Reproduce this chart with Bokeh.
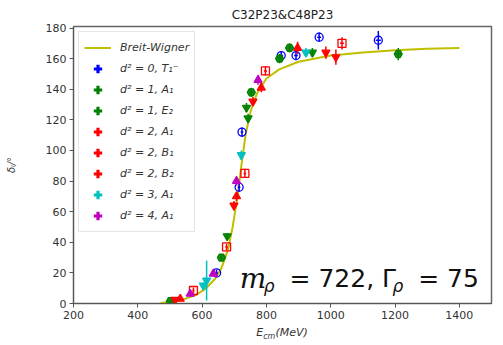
from bokeh.plotting import figure
from bokeh.layouts import column
from bokeh.models import (ColumnDataSource, Legend, LegendItem, Label,
                          Range1d, FixedTicker, Div)
from bokeh.embed import file_html
from bokeh.resources import INLINE

# Breit-Wigner fit curve: energy (MeV) and phase shift (degrees)
bw_E = [470, 500, 540, 580, 610, 640, 660, 680, 695, 710, 722, 735, 750,
        770, 800, 840, 900, 1000, 1100, 1200, 1300, 1400]
bw_delta = [0.3, 1.0, 2.5, 5.5, 9.5, 16, 23, 35, 50, 70, 90, 110, 125,
            137, 147, 153, 158, 162, 164, 165.5, 166.5, 167]

# Lattice phase shifts per irrep: energy, phase, energy error, phase error
t1m_E = [645, 715, 724, 846, 892, 964, 1148]
t1m_d = [20, 76, 112, 162, 162, 174, 172]
t1m_eE = [4, 4, 4, 6, 6, 6, 8]
t1m_ed = [2, 3, 3, 3, 3, 3, 6]

a1_d1_E = [501, 660, 753, 841, 872, 1210]
a1_d1_d = [1.5, 30, 138, 160, 167, 163]
a1_d1_eE = [3, 4, 5, 5, 6, 8]
a1_d1_ed = [1, 2, 3, 3, 3, 4]

e2_d1_E = [678, 738, 743, 943]
e2_d1_d = [44, 128, 121, 164]
e2_d1_eE = [4, 5, 5, 6]
e2_d1_ed = [2, 3, 3, 3]

a1_d2_E = [532, 707, 784, 897]
a1_d2_d = [3, 70, 141, 167]
a1_d2_eE = [3, 4, 5, 6]
a1_d2_ed = [1, 3, 3, 4]

b1_d2_E = [516, 699, 758, 985, 1016]
b1_d2_d = [2.4, 64, 132, 164, 161]
b1_d2_eE = [3, 4, 5, 6, 6]
b1_d2_ed = [1, 3, 3, 4, 5]

b2_d2_E = [573, 676, 733, 797, 1035]
b2_d2_d = [8.5, 37, 85, 152, 170]
b2_d2_eE = [3, 4, 4, 5, 6]
b2_d2_ed = [2, 2, 3, 3, 4]

a1_d3_E = [604, 614, 722, 923]
a1_d3_d = [11.8, 15, 97, 164]
a1_d3_eE = [3, 4, 4, 6]
a1_d3_ed = [2, 13, 3, 3]

a1_d4_E = [563, 635, 707, 774]
a1_d4_d = [6.3, 19.4, 80, 146]
a1_d4_eE = [3, 4, 4, 5]
a1_d4_ed = [1.5, 2, 3, 3]

x_ticks = [200, 400, 600, 800, 1000, 1200, 1400]
y_ticks = [0, 20, 40, 60, 80, 100, 120, 140, 160, 180]

series = [
    ("d² = 0, T₁⁻", "#0000ff", "circle", False, t1m_E, t1m_d, t1m_eE, t1m_ed),
    ("d² = 1, A₁", "#008000", "hex", True, a1_d1_E, a1_d1_d, a1_d1_eE, a1_d1_ed),
    ("d² = 1, E₂", "#008000", "inverted_triangle", True, e2_d1_E, e2_d1_d, e2_d1_eE, e2_d1_ed),
    ("d² = 2, A₁", "#ff0000", "triangle", True, a1_d2_E, a1_d2_d, a1_d2_eE, a1_d2_ed),
    ("d² = 2, B₁", "#ff0000", "inverted_triangle", True, b1_d2_E, b1_d2_d, b1_d2_eE, b1_d2_ed),
    ("d² = 2, B₂", "#ff0000", "square", False, b2_d2_E, b2_d2_d, b2_d2_eE, b2_d2_ed),
    ("d² = 3, A₁", "#00bfbf", "inverted_triangle", True, a1_d3_E, a1_d3_d, a1_d3_eE, a1_d3_ed),
    ("d² = 4, A₁", "#bf00bf", "triangle", True, a1_d4_E, a1_d4_d, a1_d4_eE, a1_d4_ed),
]

FONT = "DejaVu Sans"

p = figure(width=503, height=324, output_backend="svg", toolbar_location=None,
           x_range=Range1d(200, 1500), y_range=Range1d(0, 181),
           min_border_left=73, min_border_right=12, min_border_top=26,
           min_border_bottom=21)
p.grid.visible = False
p.outline_line_color = "#666666"
p.outline_line_width = 1.5

p.title.text = "C32P23&C48P23"
p.title.align = "center"
p.title.text_font = FONT
p.title.text_font_size = "12px"
p.title.text_font_style = "normal"
p.title.text_color = "#222222"

for ax in (p.xaxis, p.yaxis):
    ax.major_label_text_font = FONT
    ax.major_label_text_font_size = "11px"
    ax.major_label_text_color = "#333333"
    ax.axis_line_color = "#555555"
    ax.major_tick_line_color = "#555555"
    ax.major_tick_out = 4
    ax.major_tick_in = 0
    ax.minor_tick_out = 0
    ax.minor_tick_in = 0
    ax.major_label_standoff = 3
p.xaxis.ticker = FixedTicker(ticks=x_ticks)
p.yaxis.ticker = FixedTicker(ticks=y_ticks)

p.yaxis.axis_label = "δₗ/°"
p.yaxis.axis_label_text_font = FONT
p.yaxis.axis_label_text_font_size = "10px"
p.yaxis.axis_label_text_font_style = "italic"
p.yaxis.axis_label_text_color = "#333333"
p.yaxis.axis_label_standoff = 26

# fit curve
bw_src = ColumnDataSource(dict(x=bw_E, y=bw_delta))
bw_r = p.line("x", "y", source=bw_src, line_color="#bfbf00", line_width=2)

items = [LegendItem(label="Breit-Wigner", renderers=[bw_r])]

NAN = float("nan")
for label, color, marker, filled, E, d, eE, ed in series:
    src = ColumnDataSource(dict(
        x=E, y=d,
        x0=[e - w for e, w in zip(E, eE)], x1=[e + w for e, w in zip(E, eE)],
        y0=[v - w for v, w in zip(d, ed)], y1=[v + w for v, w in zip(d, ed)],
    ))
    p.segment("x0", "y", "x1", "y", source=src, line_color=color, line_width=1.5)
    p.segment("x", "y0", "x", "y1", source=src, line_color=color, line_width=1.5)
    p.scatter("x", "y", source=src, marker=marker, size=8,
              line_color=color, line_width=1.3,
              fill_color=color if filled else None, fill_alpha=0.9)
    # legend glyph: error-bar cross (not drawn in the plot itself)
    blank = ColumnDataSource(dict(x=[NAN], y=[NAN]))
    cross = p.scatter("x", "y", source=blank, marker="cross", size=13,
                      line_color=color, line_width=3.2)
    items.append(LegendItem(label=label, renderers=[cross]))

legend = Legend(items=items, location="top_left")
legend.label_text_font = FONT
legend.label_text_font_size = "11px"
legend.label_text_font_style = "italic"
legend.label_text_color = "#333333"
legend.glyph_width = 27
legend.glyph_height = 21
legend.label_height = 21
legend.label_standoff = 9
legend.spacing = 0
legend.padding = 5
legend.margin = 5
legend.border_line_color = "#cccccc"
legend.border_line_width = 1
legend.background_fill_color = "white"
legend.background_fill_alpha = 0.85
p.add_layout(legend)

# fit result annotation
note_parts = [
    ("m", 717, 16.4, "DejaVu Serif", "italic", "28px"),
    ("ρ", 792, 11.5, FONT, "italic", "17px"),
    ("= 722, Γ", 872, 16.4, FONT, "normal", "25px"),
    ("ρ", 1192, 11.5, FONT, "italic", "17px"),
    ("= 75", 1272, 16.4, FONT, "normal", "25px"),
]
for txt, xx, yy, font, style, size in note_parts:
    p.add_layout(Label(x=xx, y=yy, text=txt, text_font=font,
                       text_font_style=style, text_font_size=size,
                       text_color="#111111", text_baseline="alphabetic"))

# x axis title with subscript, centred under the frame
xlabel = Div(
    text='<span style="font-style:italic">E<span style="font-size:8px;'
         'position:relative;top:3px">cm</span>(MeV)</span>',
    width=418, height=21, margin=(0, 0, 0, 73),
    styles={"text-align": "center", "font-family": FONT, "font-size": "11px",
            "color": "#333333", "line-height": "18px", "width": "418px"},
)

layout = column(p, xlabel, spacing=0)
open("out.html", "w").write(file_html(layout, INLINE))
